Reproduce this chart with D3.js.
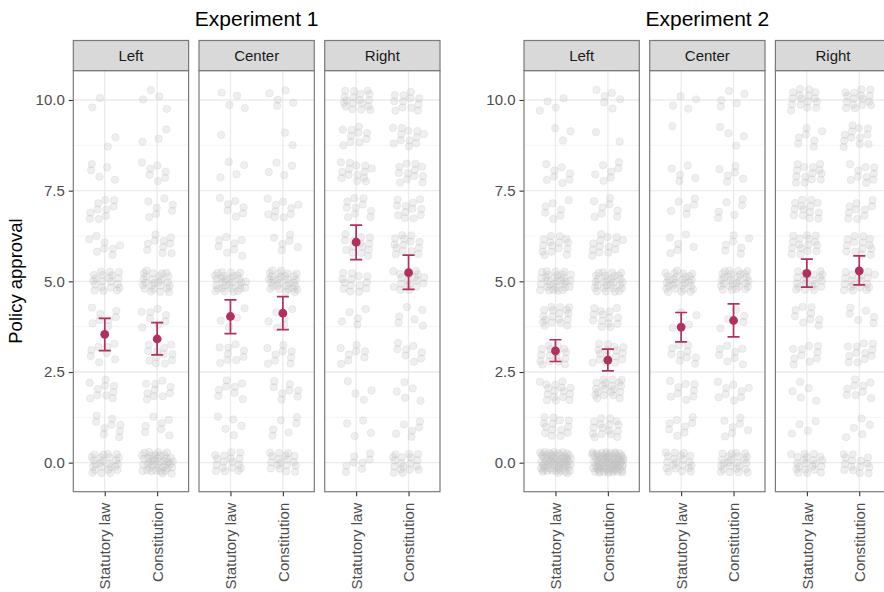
<!DOCTYPE html>
<html>
<head>
<meta charset="utf-8">
<title>Policy approval by ideology and legal form</title>
<script src="https://d3js.org/d3.v7.min.js"></script>
<style>
  body { margin: 0; background: #fff; }
  svg { display: block; font-family: "Liberation Sans", Arial, Helvetica, sans-serif; }
</style>
</head>
<body>
<div id="chart"></div>
<script>
// categories and ticks
var experiments = ["Experiment 1", "Experiment 2"];
var ideologies = ["Left", "Center", "Right"];
var conditions = ["Statutory law", "Constitution"];
var levels = [0, 1, 2, 3, 4, 5, 6, 7, 8, 9, 10];
var yTicks = [0, 2.5, 5, 7.5, 10];
var yMinor = [1.25, 3.75, 6.25, 8.75];

// number of answers at each level 0..10
var exp1LeftStatutory    = [25, 9, 10, 8, 8, 20, 8, 10, 5, 2, 2];
var exp1LeftConstitution = [40, 7, 10, 12, 8, 25, 10, 7, 7, 3, 4];
var exp1CenterStatutory    = [17, 5, 8, 9, 4, 30, 8, 7, 4, 1, 4];
var exp1CenterConstitution = [18, 6, 8, 9, 6, 30, 6, 10, 4, 2, 5];
var exp1RightStatutory    = [8, 4, 4, 8, 5, 14, 14, 10, 14, 10, 18];
var exp1RightConstitution = [18, 6, 5, 8, 6, 18, 14, 12, 12, 12, 12];
var exp2LeftStatutory    = [60, 14, 16, 16, 18, 30, 15, 7, 8, 3, 4];
var exp2LeftConstitution = [72, 16, 20, 16, 14, 28, 14, 8, 7, 2, 6];
var exp2CenterStatutory    = [20, 8, 9, 10, 4, 28, 6, 6, 5, 1, 4];
var exp2CenterConstitution = [24, 7, 9, 8, 5, 28, 7, 6, 6, 4, 5];
var exp2RightStatutory    = [21, 4, 5, 10, 9, 20, 16, 14, 14, 7, 16];
var exp2RightConstitution = [15, 5, 9, 12, 6, 20, 14, 10, 10, 12, 16];

// means and 95% intervals, order: Left-Stat, Left-Const, Center-Stat, Center-Const, Right-Stat, Right-Const
var exp1Means = [3.54, 3.41, 4.03, 4.12, 6.08, 5.24];
var exp1Lower = [3.09, 2.97, 3.56, 3.67, 5.60, 4.78];
var exp1Upper = [3.98, 3.86, 4.49, 4.58, 6.55, 5.72];
var exp2Means = [3.08, 2.83, 3.74, 3.92, 5.22, 5.29];
var exp2Lower = [2.79, 2.53, 3.33, 3.47, 4.84, 4.90];
var exp2Upper = [3.39, 3.13, 4.14, 4.38, 5.61, 5.70];

var counts = [
  [[exp1LeftStatutory, exp1LeftConstitution],
   [exp1CenterStatutory, exp1CenterConstitution],
   [exp1RightStatutory, exp1RightConstitution]],
  [[exp2LeftStatutory, exp2LeftConstitution],
   [exp2CenterStatutory, exp2CenterConstitution],
   [exp2RightStatutory, exp2RightConstitution]]
];
var means = [exp1Means, exp2Means];
var lowers = [exp1Lower, exp2Lower];
var uppers = [exp1Upper, exp2Upper];

var width = 884;
var height = 592;
var maroon = "#B03060";

var panelW = 115.3;
var panelStep = 125.7;
var plotX0 = [73.3, 524];
var stripTop = 40.5;
var panelTop = 70.6;
var panelBottom = 491.7;

var svg = d3.select("#chart")
    .append("svg")
    .attr("width", width)
    .attr("height", height);

var y = d3.scaleLinear()
    .domain([-0.8, 10.81])
    .range([panelBottom, panelTop]);

var x = d3.scalePoint()
    .domain(conditions)
    .range([0, panelW])
    .padding(0.6);

var unit = x.step();

// quasi-random spread for the jitter (R2 sequence), not data
var a1 = 0.7548776662, a2 = 0.5698402910;
function frac(v) { return v - Math.floor(v); }

var seed = 0;

experiments.forEach(function(expName, e) {
  var g0 = svg.append("g");

  var x0 = plotX0[e];
  var x1 = x0 + panelStep * 2 + panelW;
  g0.append("text")
      .attr("x", (x0 + x1) / 2)
      .attr("y", 26)
      .attr("text-anchor", "middle")
      .attr("font-size", "21px")
      .attr("fill", "#000")
      .text(expName);

  var yAxis = g0.append("g")
      .attr("transform", "translate(" + x0 + ",0)")
      .call(d3.axisLeft(y).tickValues(yTicks).tickFormat(d3.format(".1f"))
        .tickSize(4.5).tickPadding(4));
  yAxis.select(".domain").remove();
  yAxis.selectAll(".tick line").attr("stroke", "#333").attr("stroke-width", 1.1);
  yAxis.selectAll(".tick text")
      .attr("fill", "#4D4D4D")
      .attr("font-size", "15px")
      .attr("font-family", "Liberation Sans, Arial, sans-serif");

  ideologies.forEach(function(ideo, i) {
    var px = x0 + i * panelStep;
    var g = g0.append("g").attr("transform", "translate(" + px + ",0)");

    // grid
    g.selectAll("line.minor")
      .data(yMinor).enter().append("line")
        .attr("x1", 0).attr("x2", panelW)
        .attr("y1", function(d) { return y(d); })
        .attr("y2", function(d) { return y(d); })
        .attr("stroke", "#F3F3F3").attr("stroke-width", 0.8);
    g.selectAll("line.major")
      .data(yTicks).enter().append("line")
        .attr("x1", 0).attr("x2", panelW)
        .attr("y1", function(d) { return y(d); })
        .attr("y2", function(d) { return y(d); })
        .attr("stroke", "#EBEBEB").attr("stroke-width", 1.3);
    g.selectAll("line.vmajor")
      .data(conditions).enter().append("line")
        .attr("x1", function(d) { return x(d); })
        .attr("x2", function(d) { return x(d); })
        .attr("y1", panelTop).attr("y2", panelBottom)
        .attr("stroke", "#EBEBEB").attr("stroke-width", 1.3);

    // jittered answers
    conditions.forEach(function(cond, c) {
      var pts = [];
      var cnt = counts[e][i][c];
      seed += 17;
      var n = seed;
      levels.forEach(function(lv, k) {
        for (var j = 0; j < cnt[k]; j++) {
          n++;
          var u = frac(0.5 + a1 * n) * 2 - 1;
          var v = frac(0.5 + a2 * n) * 2 - 1;
          pts.push({ x: x(cond) + u * 0.3 * unit, y: lv + v * 0.3 });
        }
      });
      g.append("g").selectAll("circle")
        .data(pts).enter().append("circle")
          .attr("cx", function(d) { return d.x; })
          .attr("cy", function(d) { return y(d.y); })
          .attr("r", 3.7)
          .attr("fill", "#BEBEBE")
          .attr("fill-opacity", 0.25)
          .attr("stroke", "#BEBEBE")
          .attr("stroke-opacity", 0.25)
          .attr("stroke-width", 0.9);
    });

    // error bars and means
    var stats = conditions.map(function(cond, c) {
      var k = i * 2 + c;
      return { cond: cond, m: means[e][k], lo: lowers[e][k], hi: uppers[e][k] };
    });
    var cap = 0.115 * unit;
    var eb = g.append("g").attr("stroke", maroon).attr("stroke-width", 1.7).attr("fill", "none");
    eb.selectAll("path")
      .data(stats).enter().append("path")
        .attr("d", function(d) {
          var cx = x(d.cond);
          return "M" + (cx - cap) + "," + y(d.hi) + "H" + (cx + cap) +
                 "M" + cx + "," + y(d.hi) + "V" + y(d.lo) +
                 "M" + (cx - cap) + "," + y(d.lo) + "H" + (cx + cap);
        });
    g.append("g").selectAll("circle")
      .data(stats).enter().append("circle")
        .attr("cx", function(d) { return x(d.cond); })
        .attr("cy", function(d) { return y(d.m); })
        .attr("r", 4.4)
        .attr("fill", maroon);

    // panel border
    g.append("rect")
        .attr("x", 0).attr("y", panelTop)
        .attr("width", panelW).attr("height", panelBottom - panelTop)
        .attr("fill", "none")
        .attr("stroke", "#7A7A7A").attr("stroke-width", 1.2);

    // strip
    g.append("rect")
        .attr("x", 0).attr("y", stripTop)
        .attr("width", panelW).attr("height", panelTop - stripTop)
        .attr("fill", "#D9D9D9")
        .attr("stroke", "#7A7A7A").attr("stroke-width", 1.2);
    g.append("text")
        .attr("x", panelW / 2)
        .attr("y", (stripTop + panelTop) / 2 + 5.6)
        .attr("text-anchor", "middle")
        .attr("font-size", "15px")
        .attr("fill", "#1A1A1A")
        .text(ideo);

    // x axis
    var xAxis = g.append("g")
        .attr("transform", "translate(0," + panelBottom + ")")
        .call(d3.axisBottom(x).tickSize(4.5).tickPadding(6));
    xAxis.select(".domain").remove();
    xAxis.selectAll(".tick line").attr("stroke", "#333").attr("stroke-width", 1.1);
    xAxis.selectAll(".tick text")
        .attr("fill", "#4D4D4D")
        .attr("font-size", "15px")
        .attr("font-family", "Liberation Sans, Arial, sans-serif")
        .attr("text-anchor", "end")
        .attr("transform", "rotate(-90)")
        .attr("x", -11)
        .attr("y", 0)
        .attr("dy", "0.35em");
  });
});

// shared y title
svg.append("text")
    .attr("transform", "translate(21.5,281) rotate(-90)")
    .attr("text-anchor", "middle")
    .attr("font-size", "18.5px")
    .attr("fill", "#000")
    .text("Policy approval");
</script>
</body>
</html>
